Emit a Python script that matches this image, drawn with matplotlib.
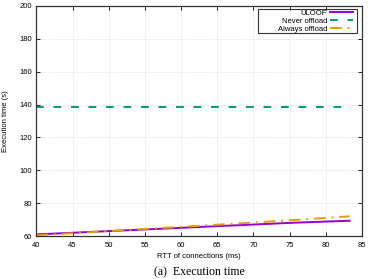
import matplotlib
matplotlib.use("Agg")
import matplotlib.pyplot as plt
from matplotlib.patches import Rectangle

# data
rtt = [40, 45, 50, 55, 60, 65, 70, 75, 80, 83.3]
uloof = [61.0, 62.0, 63.0, 64.0, 65.0, 66.0, 67.0, 68.0, 68.8, 69.3]
never_offload = [138.3] * len(rtt)
always_offload = [60.5, 61.7, 63.0, 64.3, 65.6, 66.9, 68.2, 69.6, 71.0, 72.0]

xticks = [40, 45, 50, 55, 60, 65, 70, 75, 80, 85]
yticks = [60, 80, 100, 120, 140, 160, 180, 200]

plt.rcParams['font.family'] = ['Liberation Sans', 'DejaVu Sans']

fig = plt.figure(figsize=(3.72, 2.79), dpi=100)
ax = fig.add_axes([0.098, 0.154, 0.875, 0.825])

ax.plot(rtt, uloof, color='#9400d3', lw=1.4, label='ULOOF')
ax.plot(rtt, never_offload, color='#009e73', lw=1.4, dashes=(4, 5), label='Never offload')
ax.plot(rtt, always_offload, color='#e69f00', lw=1.4, dashes=(6, 3, 1, 3), label='Always offload')

ax.set_xlim(40, 85)
ax.set_ylim(60, 200)
ax.set_xticks(xticks)
ax.set_yticks(yticks)
ax.grid(True, color='#d8d8d8', lw=0.5, ls=(0, (1, 1)))
ax.tick_params(direction='in', top=True, right=True, labelsize=5.5, length=3, width=0.6, pad=4)
ax.tick_params(axis='y', pad=3)
for s in ax.spines.values():
    s.set_linewidth(0.9)
    s.set_color('#333333')

ax.set_xlabel('RTT of connections (ms)', fontsize=5.5, labelpad=3)
ax.set_ylabel('Execution time (s)', fontsize=5.5, labelpad=8)

# gnuplot-style key: right-aligned text, sample to the right, wide box
leg = ax.legend(loc='upper right', bbox_to_anchor=(353 / 372, 1 - 9.5 / 279),
                bbox_transform=fig.transFigure, fontsize=5.5, markerfirst=False,
                frameon=False, handlelength=3.0, borderpad=0, labelspacing=0.08,
                handletextpad=0.4, borderaxespad=0)
for t in leg.get_texts():
    t.set_ha('right')
leg._legend_box.align = 'right'
fig.patches.append(Rectangle((257.5 / 372, 1 - 33 / 279), 99 / 372, 24.3 / 279,
                             transform=fig.transFigure, fill=False,
                             edgecolor='#333333', lw=0.8, zorder=5))

fig.text(0.535, 0.003, '(a)  Execution time', ha='center', va='bottom',
         fontsize=8.5, family=['Liberation Serif', 'DejaVu Serif'])

fig.savefig('out.png', dpi=100)
